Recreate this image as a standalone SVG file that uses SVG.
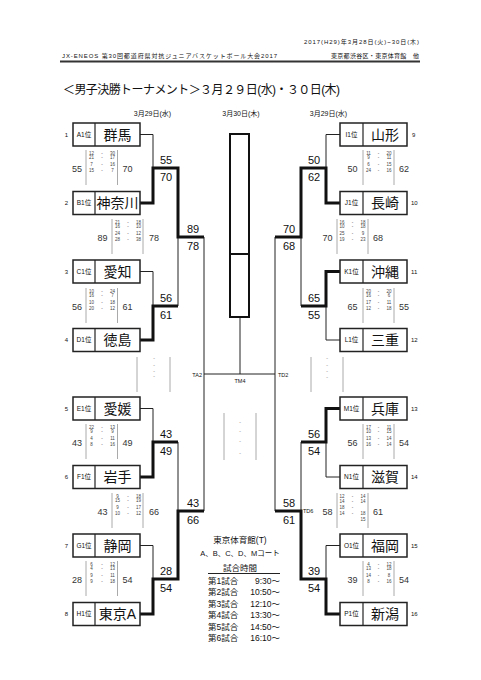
<svg xmlns="http://www.w3.org/2000/svg" width="481" height="680" viewBox="0 0 481 680">
<style>
text{font-family:"Liberation Sans","Noto Sans CJK JP",sans-serif;fill:#111}
.hd{font-size:6px}
.ttl{font-size:12px}
.day{font-size:7px;text-anchor:middle}
.box{fill:#fff;stroke:#222;stroke-width:1.5}
.dv{stroke:#222;stroke-width:1.2}
.lab{font-size:6.5px;text-anchor:middle}
.nm{font-size:14px;text-anchor:middle}
.seed{font-size:6px}
.thin{fill:none;stroke:#222;stroke-width:1}
.thick{fill:none;stroke:#111;stroke-width:3}
.sc{font-size:11px}
.ss{font-size:9px;text-anchor:middle;fill:#333}
.q{font-size:4.5px;text-anchor:middle;fill:#444}
.g{stroke:#aaa;stroke-width:1}
.dash{font-size:5px;text-anchor:middle;fill:#777}
.tm{font-size:5.5px}
.tt{font-size:8.5px}
</style>
<rect width="481" height="680" fill="#fff"/>
<g id="header">
<text class="hd" x="304" y="44" textLength="115">2017(H29)年3月28日(火)~30日(木)</text>
<text class="hd" x="62" y="57.5" textLength="215">JX-ENEOS 第30回都道府県対抗ジュニアバスケットボール大会2017</text>
<text class="hd" x="331" y="57.5" textLength="88">東京都渋谷区・東京体育館　他</text>
<line x1="60" y1="61.5" x2="420" y2="61.5" stroke="#333" stroke-width="2"/>
<text class="ttl" x="63" y="94" textLength="277">＜男子決勝トーナメント＞３月２９日(水)・３０日(木)</text>
<text class="day" x="152.5" y="116">3月29日(水)</text>
<text class="day" x="241" y="116">3月30日(木)</text>
<text class="day" x="328.5" y="116">3月29日(水)</text>
</g>
<g id="connectors">
<path class="thin" d="M140,134.5H153V168M140,271.5H153V306M178,306V237M140,408.5H153V442M178,442V511M140,545.5H153V579M204,237V511M204,374H275M240,317V374"/>
<path class="thick" d="M140,203H153V168H178V237H204M140,340H153V306H178M140,477H153V442H178M140,614H153V579H178V511H204"/>
<path class="thin" d="M340,134.5H326V168M340,340H326V306M301,306V237M340,477H326V442M301,442V511M340,545.5H326V579M275,237V511"/>
<path class="thick" d="M340,203H326V168H301V237H275M340,271.5H326V306H301M340,408.5H326V442H301M340,614H326V579H301V511H275"/>
</g>
<g id="final">
<rect x="230" y="134" width="19" height="183" fill="#fff" stroke="#111" stroke-width="2"/>
<line x1="230" y1="254" x2="249" y2="254" stroke="#111" stroke-width="2"/>
<text class="tm" x="202" y="376.5" text-anchor="end">TA2</text>
<text class="tm" x="240" y="383" text-anchor="middle">TM4</text>
<text class="tm" x="278" y="376.5">TD2</text>
<text class="tm" x="303" y="513">TD6</text>
</g>
<g id="t1"><rect class="box" x="73" y="123" width="67" height="23"/><line class="dv" x1="95" y1="123" x2="95" y2="146"/><text class="lab" x="84" y="136.8">A1位</text><text class="nm" x="117.5" y="139.5">群馬</text><text class="seed" x="66.5" y="136.5" text-anchor="middle">1</text></g>
<g id="t2"><rect class="box" x="73" y="191.5" width="67" height="23"/><line class="dv" x1="95" y1="191.5" x2="95" y2="214.5"/><text class="lab" x="84" y="205.3">B1位</text><text class="nm" x="117.5" y="208">神奈川</text><text class="seed" x="66.5" y="205" text-anchor="middle">2</text></g>
<g id="t3"><rect class="box" x="73" y="260" width="67" height="23"/><line class="dv" x1="95" y1="260" x2="95" y2="283"/><text class="lab" x="84" y="273.8">C1位</text><text class="nm" x="117.5" y="276.5">愛知</text><text class="seed" x="66.5" y="273.5" text-anchor="middle">3</text></g>
<g id="t4"><rect class="box" x="73" y="328.5" width="67" height="23"/><line class="dv" x1="95" y1="328.5" x2="95" y2="351.5"/><text class="lab" x="84" y="342.3">D1位</text><text class="nm" x="117.5" y="345">徳島</text><text class="seed" x="66.5" y="342" text-anchor="middle">4</text></g>
<g id="t5"><rect class="box" x="73" y="397" width="67" height="23"/><line class="dv" x1="95" y1="397" x2="95" y2="420"/><text class="lab" x="84" y="410.8">E1位</text><text class="nm" x="117.5" y="413.5">愛媛</text><text class="seed" x="66.5" y="410.5" text-anchor="middle">5</text></g>
<g id="t6"><rect class="box" x="73" y="465.5" width="67" height="23"/><line class="dv" x1="95" y1="465.5" x2="95" y2="488.5"/><text class="lab" x="84" y="479.3">F1位</text><text class="nm" x="117.5" y="482">岩手</text><text class="seed" x="66.5" y="479" text-anchor="middle">6</text></g>
<g id="t7"><rect class="box" x="73" y="534" width="67" height="23"/><line class="dv" x1="95" y1="534" x2="95" y2="557"/><text class="lab" x="84" y="547.8">G1位</text><text class="nm" x="117.5" y="550.5">静岡</text><text class="seed" x="66.5" y="547.5" text-anchor="middle">7</text></g>
<g id="t8"><rect class="box" x="73" y="602.5" width="67" height="23"/><line class="dv" x1="95" y1="602.5" x2="95" y2="625.5"/><text class="lab" x="84" y="616.3">H1位</text><text class="nm" x="117.5" y="619">東京A</text><text class="seed" x="66.5" y="616" text-anchor="middle">8</text></g>
<g id="t9"><rect class="box" x="340" y="123" width="67" height="23"/><line class="dv" x1="363" y1="123" x2="363" y2="146"/><text class="lab" x="351.5" y="136.8">I1位</text><text class="nm" x="385" y="139.5">山形</text><text class="seed" x="412" y="136.5">9</text></g>
<g id="t10"><rect class="box" x="340" y="191.5" width="67" height="23"/><line class="dv" x1="363" y1="191.5" x2="363" y2="214.5"/><text class="lab" x="351.5" y="205.3">J1位</text><text class="nm" x="385" y="208">長崎</text><text class="seed" x="411" y="205">10</text></g>
<g id="t11"><rect class="box" x="340" y="260" width="67" height="23"/><line class="dv" x1="363" y1="260" x2="363" y2="283"/><text class="lab" x="351.5" y="273.8">K1位</text><text class="nm" x="385" y="276.5">沖縄</text><text class="seed" x="411" y="273.5">11</text></g>
<g id="t12"><rect class="box" x="340" y="328.5" width="67" height="23"/><line class="dv" x1="363" y1="328.5" x2="363" y2="351.5"/><text class="lab" x="351.5" y="342.3">L1位</text><text class="nm" x="385" y="345">三重</text><text class="seed" x="411" y="342">12</text></g>
<g id="t13"><rect class="box" x="340" y="397" width="67" height="23"/><line class="dv" x1="363" y1="397" x2="363" y2="420"/><text class="lab" x="351.5" y="410.8">M1位</text><text class="nm" x="385" y="413.5">兵庫</text><text class="seed" x="411" y="410.5">13</text></g>
<g id="t14"><rect class="box" x="340" y="465.5" width="67" height="23"/><line class="dv" x1="363" y1="465.5" x2="363" y2="488.5"/><text class="lab" x="351.5" y="479.3">N1位</text><text class="nm" x="385" y="482">滋賀</text><text class="seed" x="411" y="479">14</text></g>
<g id="t15"><rect class="box" x="340" y="534" width="67" height="23"/><line class="dv" x1="363" y1="534" x2="363" y2="557"/><text class="lab" x="351.5" y="547.8">O1位</text><text class="nm" x="385" y="550.5">福岡</text><text class="seed" x="411" y="547.5">15</text></g>
<g id="t16"><rect class="box" x="340" y="602.5" width="67" height="23"/><line class="dv" x1="363" y1="602.5" x2="363" y2="625.5"/><text class="lab" x="351.5" y="616.3">P1位</text><text class="nm" x="385" y="619">新潟</text><text class="seed" x="411" y="616">16</text></g>
<g id="bracket-scores" class="sc">
<text class="sc" x="160" y="164">55</text><text class="sc" x="160" y="181">70</text>
<text class="sc" x="160" y="302">56</text><text class="sc" x="160" y="319">61</text>
<text class="sc" x="160" y="438">43</text><text class="sc" x="160" y="455">49</text>
<text class="sc" x="160" y="575">28</text><text class="sc" x="160" y="592">54</text>
<text class="sc" x="187" y="233">89</text><text class="sc" x="187" y="250">78</text>
<text class="sc" x="187" y="507">43</text><text class="sc" x="187" y="524">66</text>
<text class="sc" x="308" y="164">50</text><text class="sc" x="308" y="181">62</text>
<text class="sc" x="308" y="302">65</text><text class="sc" x="308" y="319">55</text>
<text class="sc" x="308" y="438">56</text><text class="sc" x="308" y="455">54</text>
<text class="sc" x="308" y="575">39</text><text class="sc" x="308" y="592">54</text>
<text class="sc" x="283" y="233">70</text><text class="sc" x="283" y="250">68</text>
<text class="sc" x="283" y="507">58</text><text class="sc" x="283" y="524">61</text>
</g>
<g id="table-g1"><line class="g" x1="86" y1="150" x2="86" y2="185"/><line class="g" x1="117.5" y1="150" x2="117.5" y2="185"/><text class="ss" x="77" y="172.2">55</text><text class="ss" x="127.5" y="172.2">70</text>
<text class="q" y="154.6"><tspan x="91.5">12</tspan><tspan x="102">-</tspan><tspan x="112.5">30</tspan></text>
<text class="q" y="159.1"><tspan x="91.5">21</tspan><tspan x="102">-</tspan><tspan x="112.5">17</tspan></text>
<text class="q" y="166.1"><tspan x="91.5">7</tspan><tspan x="102">-</tspan><tspan x="112.5">16</tspan></text>
<text class="q" y="171.6"><tspan x="91.5">15</tspan><tspan x="102">-</tspan><tspan x="112.5">7</tspan></text></g>
<g id="table-g2"><line class="g" x1="86" y1="288" x2="86" y2="323"/><line class="g" x1="117.5" y1="288" x2="117.5" y2="323"/><text class="ss" x="77" y="310.2">56</text><text class="ss" x="127.5" y="310.2">61</text>
<text class="q" y="292.6"><tspan x="91.5">10</tspan><tspan x="102">-</tspan><tspan x="112.5">24</tspan></text>
<text class="q" y="297.1"><tspan x="91.5">16</tspan><tspan x="102">-</tspan><tspan x="112.5">7</tspan></text>
<text class="q" y="304.1"><tspan x="91.5">10</tspan><tspan x="102">-</tspan><tspan x="112.5">18</tspan></text>
<text class="q" y="309.6"><tspan x="91.5">20</tspan><tspan x="102">-</tspan><tspan x="112.5">12</tspan></text></g>
<g id="table-g3"><line class="g" x1="86" y1="424" x2="86" y2="459"/><line class="g" x1="117.5" y1="424" x2="117.5" y2="459"/><text class="ss" x="77" y="446.2">43</text><text class="ss" x="127.5" y="446.2">49</text>
<text class="q" y="428.6"><tspan x="91.5">22</tspan><tspan x="102">-</tspan><tspan x="112.5">13</tspan></text>
<text class="q" y="433.1"><tspan x="91.5">9</tspan><tspan x="102">-</tspan><tspan x="112.5">9</tspan></text>
<text class="q" y="440.1"><tspan x="91.5">4</tspan><tspan x="102">-</tspan><tspan x="112.5">11</tspan></text>
<text class="q" y="445.6"><tspan x="91.5">8</tspan><tspan x="102">-</tspan><tspan x="112.5">16</tspan></text></g>
<g id="table-g4"><line class="g" x1="86" y1="561" x2="86" y2="596"/><line class="g" x1="117.5" y1="561" x2="117.5" y2="596"/><text class="ss" x="77" y="583.2">28</text><text class="ss" x="127.5" y="583.2">54</text>
<text class="q" y="565.6"><tspan x="91.5">6</tspan><tspan x="102">-</tspan><tspan x="112.5">12</tspan></text>
<text class="q" y="570.1"><tspan x="91.5">4</tspan><tspan x="102">-</tspan><tspan x="112.5">13</tspan></text>
<text class="q" y="577.1"><tspan x="91.5">9</tspan><tspan x="102">-</tspan><tspan x="112.5">11</tspan></text>
<text class="q" y="582.6"><tspan x="91.5">9</tspan><tspan x="102">-</tspan><tspan x="112.5">18</tspan></text></g>
<g id="table-g5"><line class="g" x1="112" y1="219" x2="112" y2="254"/><line class="g" x1="143" y1="219" x2="143" y2="254"/><text class="ss" x="102.5" y="241.2">89</text><text class="ss" x="154" y="241.2">78</text>
<text class="q" y="223.6"><tspan x="117.5">21</tspan><tspan x="128">-</tspan><tspan x="138.5">18</tspan></text>
<text class="q" y="228.1"><tspan x="117.5">16</tspan><tspan x="128">-</tspan><tspan x="138.5">10</tspan></text>
<text class="q" y="235.1"><tspan x="117.5">24</tspan><tspan x="128">-</tspan><tspan x="138.5">12</tspan></text>
<text class="q" y="240.6"><tspan x="117.5">28</tspan><tspan x="128">-</tspan><tspan x="138.5">38</tspan></text></g>
<g id="table-g6"><line class="g" x1="112" y1="493" x2="112" y2="528"/><line class="g" x1="143" y1="493" x2="143" y2="528"/><text class="ss" x="102.5" y="515.2">43</text><text class="ss" x="154" y="515.2">66</text>
<text class="q" y="497.6"><tspan x="117.5">9</tspan><tspan x="128">-</tspan><tspan x="138.5">18</tspan></text>
<text class="q" y="502.1"><tspan x="117.5">15</tspan><tspan x="128">-</tspan><tspan x="138.5">19</tspan></text>
<text class="q" y="509.1"><tspan x="117.5">9</tspan><tspan x="128">-</tspan><tspan x="138.5">17</tspan></text>
<text class="q" y="514.6"><tspan x="117.5">10</tspan><tspan x="128">-</tspan><tspan x="138.5">12</tspan></text></g>
<g id="table-g9"><line class="g" x1="363" y1="150" x2="363" y2="185"/><line class="g" x1="394" y1="150" x2="394" y2="185"/><text class="ss" x="352.5" y="172.2">50</text><text class="ss" x="404" y="172.2">62</text>
<text class="q" y="154.6"><tspan x="368.5">11</tspan><tspan x="378.5">-</tspan><tspan x="389">20</tspan></text>
<text class="q" y="159.1"><tspan x="368.5">9</tspan><tspan x="378.5">-</tspan><tspan x="389">11</tspan></text>
<text class="q" y="166.1"><tspan x="368.5">6</tspan><tspan x="378.5">-</tspan><tspan x="389">15</tspan></text>
<text class="q" y="171.6"><tspan x="368.5">24</tspan><tspan x="378.5">-</tspan><tspan x="389">16</tspan></text></g>
<g id="table-g10"><line class="g" x1="363" y1="288" x2="363" y2="323"/><line class="g" x1="394" y1="288" x2="394" y2="323"/><text class="ss" x="352.5" y="310.2">65</text><text class="ss" x="404" y="310.2">55</text>
<text class="q" y="292.6"><tspan x="368.5">20</tspan><tspan x="378.5">-</tspan><tspan x="389">20</tspan></text>
<text class="q" y="297.1"><tspan x="368.5">16</tspan><tspan x="378.5">-</tspan><tspan x="389">6</tspan></text>
<text class="q" y="304.1"><tspan x="368.5">17</tspan><tspan x="378.5">-</tspan><tspan x="389">11</tspan></text>
<text class="q" y="309.6"><tspan x="368.5">12</tspan><tspan x="378.5">-</tspan><tspan x="389">18</tspan></text></g>
<g id="table-g11"><line class="g" x1="363" y1="424" x2="363" y2="459"/><line class="g" x1="394" y1="424" x2="394" y2="459"/><text class="ss" x="352.5" y="446.2">56</text><text class="ss" x="404" y="446.2">54</text>
<text class="q" y="428.6"><tspan x="368.5">17</tspan><tspan x="378.5">-</tspan><tspan x="389">11</tspan></text>
<text class="q" y="433.1"><tspan x="368.5">10</tspan><tspan x="378.5">-</tspan><tspan x="389">15</tspan></text>
<text class="q" y="440.1"><tspan x="368.5">13</tspan><tspan x="378.5">-</tspan><tspan x="389">14</tspan></text>
<text class="q" y="445.6"><tspan x="368.5">16</tspan><tspan x="378.5">-</tspan><tspan x="389">14</tspan></text></g>
<g id="table-g12"><line class="g" x1="363" y1="561" x2="363" y2="596"/><line class="g" x1="394" y1="561" x2="394" y2="596"/><text class="ss" x="352.5" y="583.2">39</text><text class="ss" x="404" y="583.2">54</text>
<text class="q" y="565.6"><tspan x="368.5">4</tspan><tspan x="378.5">-</tspan><tspan x="389">12</tspan></text>
<text class="q" y="570.1"><tspan x="368.5">13</tspan><tspan x="378.5">-</tspan><tspan x="389">18</tspan></text>
<text class="q" y="577.1"><tspan x="368.5">14</tspan><tspan x="378.5">-</tspan><tspan x="389">8</tspan></text>
<text class="q" y="582.6"><tspan x="368.5">8</tspan><tspan x="378.5">-</tspan><tspan x="389">16</tspan></text></g>
<g id="table-g13"><line class="g" x1="337" y1="219" x2="337" y2="254"/><line class="g" x1="368" y1="219" x2="368" y2="254"/><text class="ss" x="327.5" y="241.2">70</text><text class="ss" x="378" y="241.2">68</text>
<text class="q" y="223.6"><tspan x="342">16</tspan><tspan x="352.5">-</tspan><tspan x="363">18</tspan></text>
<text class="q" y="228.1"><tspan x="342">10</tspan><tspan x="352.5">-</tspan><tspan x="363">18</tspan></text>
<text class="q" y="235.1"><tspan x="342">25</tspan><tspan x="352.5">-</tspan><tspan x="363">9</tspan></text>
<text class="q" y="240.6"><tspan x="342">19</tspan><tspan x="352.5">-</tspan><tspan x="363">23</tspan></text></g>
<g id="table-g14"><line class="g" x1="337" y1="493" x2="337" y2="528"/><line class="g" x1="368" y1="493" x2="368" y2="528"/><text class="ss" x="327.5" y="515.2">58</text><text class="ss" x="378" y="515.2">61</text>
<text class="q" y="497.6"><tspan x="342">12</tspan><tspan x="352.5">-</tspan><tspan x="363">14</tspan></text>
<text class="q" y="502.6"><tspan x="342">14</tspan><tspan x="352.5">-</tspan><tspan x="363">14</tspan></text>
<text class="q" y="508.6"><tspan x="342">18</tspan><tspan x="352.5">-</tspan></text>
<text class="q" y="514.6"><tspan x="342">14</tspan><tspan x="352.5">-</tspan><tspan x="363">18</tspan></text>
<text class="q" y="520.6"><tspan x="363">15</tspan></text></g>
<g id="pending">
<line class="g" x1="137" y1="357" x2="137" y2="392"/><line class="g" x1="170" y1="357" x2="170" y2="392"/>
<text class="dash" x="154" y="359.5">-</text><text class="dash" x="154" y="366.5">-</text><text class="dash" x="154" y="372.5">-</text><text class="dash" x="154" y="378">-</text>
<line class="g" x1="311" y1="357" x2="311" y2="392"/><line class="g" x1="343" y1="357" x2="343" y2="392"/>
<text class="dash" x="327" y="359.5">-</text><text class="dash" x="327" y="366.5">-</text><text class="dash" x="327" y="372.5">-</text><text class="dash" x="327" y="378.5">-</text>
<line class="g" x1="224" y1="413" x2="224" y2="460"/><line class="g" x1="256" y1="413" x2="256" y2="460"/>
<text class="dash" x="240" y="423.5">-</text><text class="dash" x="240" y="432.5">-</text><text class="dash" x="240" y="442.5">-</text><text class="dash" x="240" y="454.5">-</text>
</g>
<g id="schedule">
<text class="tt" x="240" y="543" text-anchor="middle">東京体育館(T)</text>
<text class="tt" x="240" y="556" text-anchor="middle" style="font-size:7.5px">A、B、C、D、Mコート</text>
<text class="tt" x="240" y="571" text-anchor="middle">試合時間</text>
<line x1="208" y1="573.5" x2="280" y2="573.5" stroke="#222" stroke-width="1"/>
<text class="tt" x="208" y="583.5">第1試合</text><text class="tt" x="280" y="583.5" text-anchor="end">9:30～</text>
<text class="tt" x="208" y="595">第2試合</text><text class="tt" x="280" y="595" text-anchor="end">10:50～</text>
<text class="tt" x="208" y="606.5">第3試合</text><text class="tt" x="280" y="606.5" text-anchor="end">12:10～</text>
<text class="tt" x="208" y="618">第4試合</text><text class="tt" x="280" y="618" text-anchor="end">13:30～</text>
<text class="tt" x="208" y="629.5">第5試合</text><text class="tt" x="280" y="629.5" text-anchor="end">14:50～</text>
<text class="tt" x="208" y="641">第6試合</text><text class="tt" x="280" y="641" text-anchor="end">16:10～</text>
</g>
</svg>
